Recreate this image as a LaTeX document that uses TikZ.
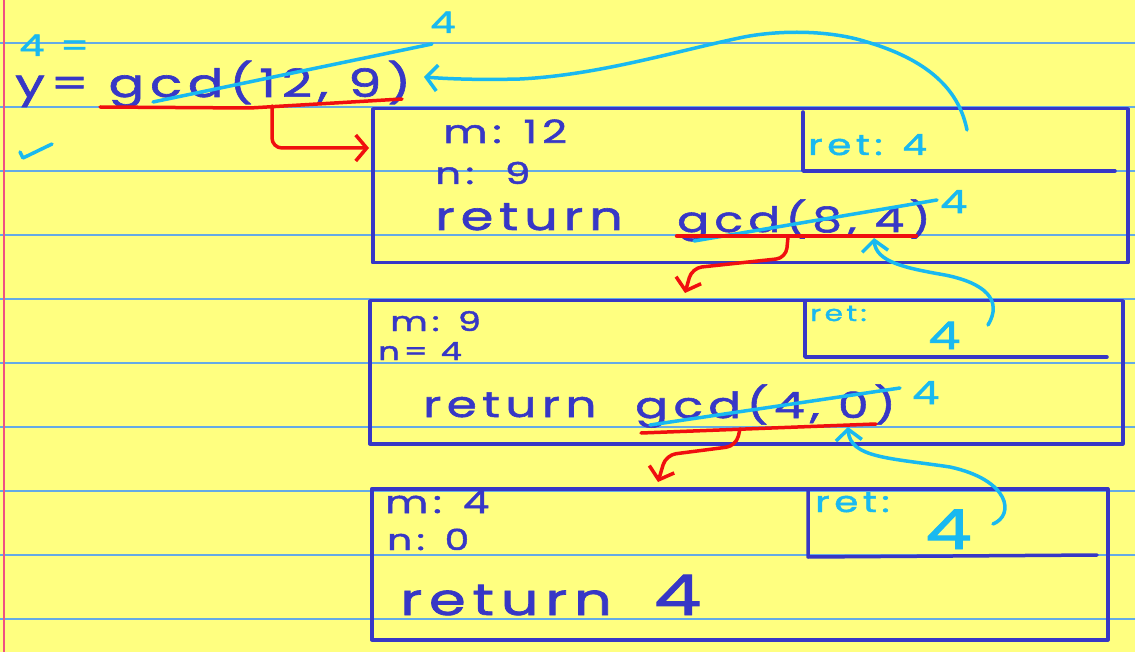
\documentclass[tikz,border=0pt]{standalone}
\usepackage{fontspec}
\usetikzlibrary{arrows.meta}
\newfontfamily\hand[LetterSpace=15,FakeStretch=1.35,FakeBold=1.6]{Poppins}
\newcommand\inksize[1]{\hand\fontsize{#1}{#1}\selectfont}
\definecolor{paper}{RGB}{255,255,128}
\definecolor{ruleblue}{RGB}{100,170,230}
\definecolor{marginred}{RGB}{240,80,130}
\definecolor{ink}{RGB}{55,55,198}
\definecolor{retcyan}{RGB}{25,185,240}
\definecolor{callred}{RGB}{240,15,15}

\begin{document}
\begin{tikzpicture}[x=1pt,y=-1pt,>={Straight Barb[length=11pt,width=26pt]}]
	\tikzset{pen/.style={draw=ink,line width=3.5pt,line cap=round,line join=round},
		frame/.style={pen,rectangle,anchor=north west,inner sep=0pt},
		txt/.style={anchor=base west,inner sep=0pt,text=ink},
		note/.style={anchor=base west,inner sep=0pt,text=retcyan},
		back/.style={draw=retcyan,line width=3.5pt,line cap=round,line join=round},
		call/.style={draw=callred,line width=3.5pt,line cap=round,line join=round},
	}
	\useasboundingbox (0,0) rectangle (1135,652);
	\fill[paper] (0,0) rectangle (1135,652);
	\foreach \k in {43,107,171,235,299,363,427,491,555,619}
		\draw[ruleblue,line width=2.2pt] (0,\k) -- ++(1135,0);
	\draw[marginred,line width=2pt] (4,0) -- (4,652);

	% caller
	\node[note,font=\inksize{30}] (res) at (19,56) {4 =};
	\node[txt,font=\inksize{39}] (call0) at (15,97) {y= gcd(12, 9)};
	\node[note,font=\inksize{30}] (val0) at (430,33) {4};
	\draw[back] (20,152) -- (23,158) -- (52,144);

	% frame 1
	\node[frame,minimum width=755pt,minimum height=154pt] (frame1) at (371,107) {};
	\draw[pen] (803,112) -- (803,171) -- (1115,171);
	\node[txt,font=\inksize{32}] (m1) at (443,143) {m: 12};
	\node[txt,font=\inksize{30}] (n1) at (435,184) {n:\ \ 9};
	\node[txt,font=\inksize{39}] (r1) at (435,230) {return};
	\node[txt,font=\inksize{35}] (call1) at (677,232) {gcd(8, 4)};
	\node[note,font=\inksize{29}] (ret1) at (808,155) {ret: 4};
	\node[note,font=\inksize{32}] (val1) at (940,213) {4};

	% frame 2
	\node[frame,minimum width=753pt,minimum height=143pt] (frame2) at (368,299) {};
	\draw[pen] (805,301) -- (805,357) -- (1107,357);
	\node[txt,font=\inksize{27}] (m2) at (390,331) {m: 9};
	\node[txt,font=\inksize{25}] (n2) at (378,360) {n= 4};
	\node[txt,font=\inksize{36}] (r2) at (423,417) {return};
	\node[txt,font=\inksize{36}] (call2) at (635,418) {gcd(4, 0)};
	\node[note,font=\inksize{22}] (ret2) at (810,321) {ret:};
	\node[note,font=\inksize{38}] (val2) at (928,349) {4};
	\node[note,font=\inksize{32}] (val2b) at (912,404) {4};

	% frame 3
	\node[frame,minimum width=736pt,minimum height=151pt] (frame3) at (370,487) {};
	\draw[pen] (808,489) -- (808,557) -- (1097,555);
	\node[txt,font=\inksize{31}] (m3) at (385,513) {m: 4};
	\node[txt,font=\inksize{29}] (n3) at (387,550) {n: 0};
	\node[txt,font=\inksize{44}] (r3) at (400,615) {return\hspace{0.95em}{\fontsize{56}{56}\selectfont 4}};
	\node[note,font=\inksize{29}] (ret3) at (815,512) {ret:};
	\node[note,font=\inksize{55}] (val3) at (925,549) {4};

	% crossed out calls
	\draw[back] (153,102) -- (432,44);
	\draw[back] (694,241) -- (937,200);
	\draw[back] (650,425) -- (900,388);

	% calls
	\draw[call] (100,107) -- (250,108) -- (402,99);
	\draw[call,line width=4.5pt] (677,236) -- (916,236);
	\draw[call] (641,433) -- (876,424);
	\coordinate (u0) at (272,106);
	\coordinate (u1) at (788,237);
	\coordinate (u2) at (740,429);
	\coordinate (a0) at (369,148);
	\coordinate (a1) at (685,293);
	\coordinate (a2) at (658,482);
	\draw[call,->,rounded corners=10pt] (u0) |- (a0);
	\draw[call,->,rounded corners=10pt] (u1) -- (786,258) -- (692,268) -- (a1);
	\draw[call,->,rounded corners=10pt] (u2) -- (736,446) -- (666,455) -- (a2);

	% returns
	\coordinate (b0) at (967,130);
	\coordinate (b1) at (988,325);
	\coordinate (b2) at (993,524);
	\coordinate (c0) at (424,77);
	\coordinate (c1) at (874,238);
	\coordinate (c2) at (848,427);
	\draw[back,->] (b0) .. controls (960,95) and (935,62) .. (867,42)
		.. controls (830,30) and (780,30) .. (744,37)
		.. controls (680,50) and (600,75) .. (520,79)
		.. controls (480,80) and (450,79) .. (c0);
	\draw[back,->] (b1) .. controls (1003,300) and (985,283) .. (945,275)
		.. controls (905,268) and (876,262) .. (c1);
	\draw[back,->] (b2) .. controls (1015,515) and (1010,480) .. (950,467)
		.. controls (890,458) and (850,458) .. (c2);
\end{tikzpicture}
\end{document}
